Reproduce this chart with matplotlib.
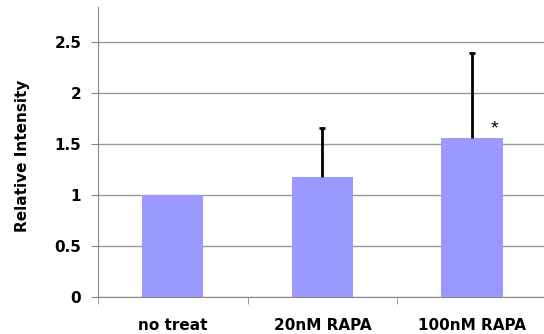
import matplotlib

matplotlib.use("Agg")
import matplotlib.pyplot as plt
import numpy as np

# --- data ------------------------------------------------------------------
categories = ["no treat", "20nM RAPA", "100nM RAPA"]
values = [1.0, 1.17, 1.56]
err_up = [0.0, 0.48, 0.83]
stars = ["", "", "*"]

plt.rcParams["font.family"] = ["DejaVu Sans"]

fig = plt.figure(figsize=(5.44, 3.34), dpi=100)
ax = fig.add_axes([0.180, 0.111, 0.825, 0.868])

x = np.arange(len(categories))
ax.bar(x, values, width=0.41, color="#9999ff", zorder=2)

# only upward error bars, and none where the error is zero
for xi, v, e in zip(x, values, err_up):
    if e > 0:
        _, caps, _ = ax.errorbar(xi, v, yerr=[[0], [e]], fmt="none",
                                 ecolor="black", elinewidth=2, capsize=2.2,
                                 capthick=2, zorder=3)
        for c in caps:
            if np.isclose(c.get_ydata()[0], v):
                c.set_visible(False)

for xi, v, s in zip(x, values, stars):
    if s:
        ax.text(xi + 0.153, v, s, ha="center", va="bottom",
                fontsize=14, family="Liberation Sans")

ax.set_xlim(-0.5, 2.5)
ax.set_ylim(0, 2.84)
ax.set_yticks(np.arange(0, 2.51, 0.5))
ax.set_yticklabels(["0", "0.5", "1", "1.5", "2", "2.5"],
                   fontweight="bold", fontsize=11)
ax.yaxis.grid(True, color="#999999", lw=1)
ax.set_axisbelow(True)

ax.set_xticks(x)
ax.set_xticklabels(categories, fontweight="bold", fontsize=11)
ax.tick_params(axis="x", which="major", length=0, pad=15)
ax.set_xticks([-0.5, 0.5, 1.5, 2.5], minor=True)
ax.tick_params(axis="x", which="minor", length=5, color="#888888")
ax.tick_params(axis="y", length=5, color="#888888", pad=7)

ax.set_ylabel("Relative Intensity", fontweight="bold", fontsize=11)
ax.yaxis.set_label_coords(-0.151, 0.486)

for side in ["top", "right"]:
    ax.spines[side].set_visible(False)
for side in ["left", "bottom"]:
    ax.spines[side].set_color("#888888")

fig.savefig("out.png", dpi=100)
